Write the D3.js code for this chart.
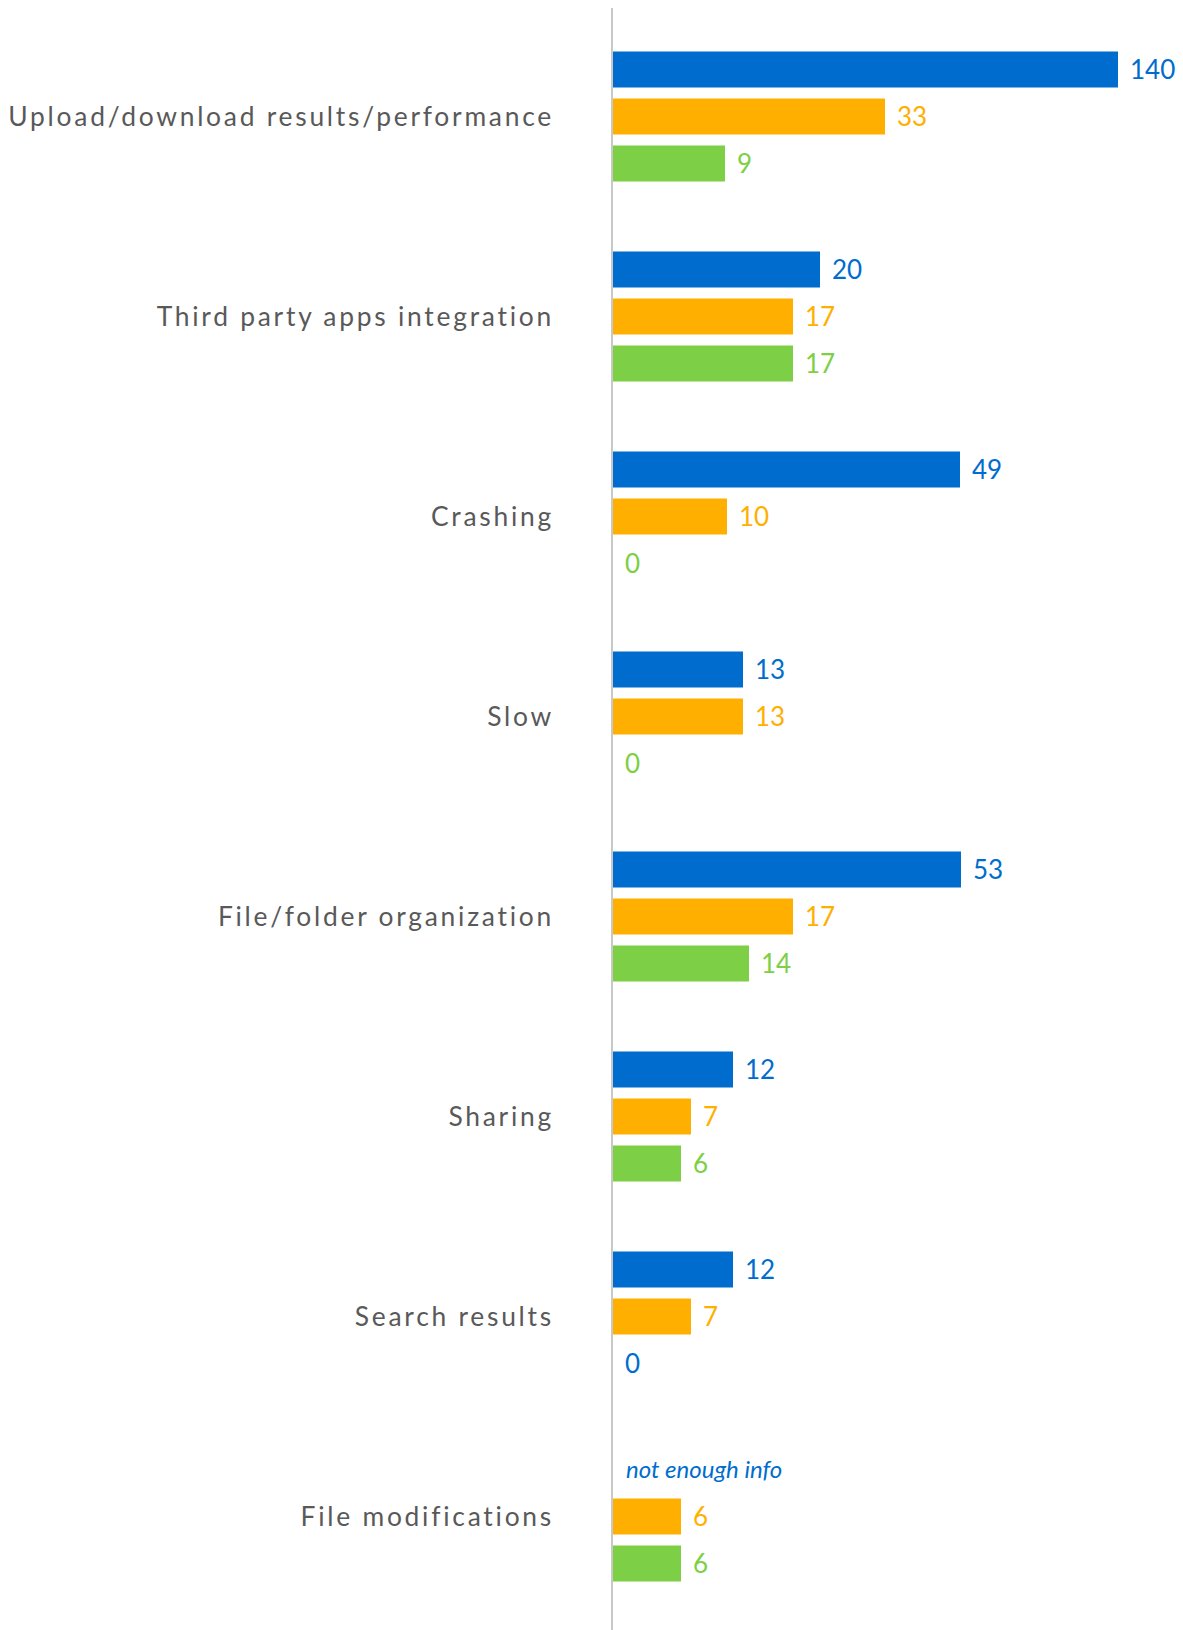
<!DOCTYPE html>
<html>
<head>
<meta charset="utf-8">
<script src="https://cdn.jsdelivr.net/npm/d3@7"></script>
<style>
  html, body { margin: 0; padding: 0; background: #fff; }
  svg { display: block; }
</style>
</head>
<body>
<svg id="chart" width="1183" height="1630"></svg>
<script>
const categories = [
  "Upload/download results/performance",
  "Third party apps integration",
  "Crashing",
  "Slow",
  "File/folder organization",
  "Sharing",
  "Search results",
  "File modifications"
];
const seriesNames = ["blue", "orange", "green"];
const blueValues   = [140, 20, 49, 13, 53, 12, 12, null];
const orangeValues = [33, 17, 10, 13, 17, 7, 7, 6];
const greenValues  = [9, 17, 0, 0, 14, 6, 0, 6];
const missingText = "not enough info";

// the original chart uses a non-linear (piecewise) length encoding
const lengthDomain = [0, 6, 7, 9, 10, 12, 13, 14, 17, 20, 33, 49, 53, 140];
const lengthRange  = [0, 68, 78, 112, 114, 120, 130, 136, 180, 207, 272, 347, 348, 505];

const colors = { blue: "#006dce", orange: "#ffaf00", green: "#7dcf45" };

const svg = d3.select("#chart");
const axisX = 612;

const y = d3.scaleBand()
  .domain(categories)
  .range([16.5, 16.5 + 200 * categories.length])
  .paddingInner(0).paddingOuter(0);

const x = d3.scaleLinear().domain(lengthDomain).range(lengthRange.map(d => d + axisX + 1));

const sub = d3.scaleBand().domain(seriesNames).range([-65, 65]).paddingInner(11/47).paddingOuter(0);

const data = categories.map((c, i) => ({
  category: c,
  values: [
    { s: "blue", v: blueValues[i] },
    { s: "orange", v: orangeValues[i] },
    { s: "green", v: greenValues[i] }
  ]
}));

// axis line
svg.append("line")
  .attr("x1", axisX).attr("x2", axisX)
  .attr("y1", 8).attr("y2", 1630)
  .attr("stroke", "#c8c8c8").attr("stroke-width", 2);

// category labels
svg.selectAll("text.cat").data(categories).enter().append("text")
  .attr("class", "cat")
  .attr("x", 554)
  .attr("y", d => y(d) + y.bandwidth() / 2)
  .attr("dy", "0.36em")
  .attr("text-anchor", "end")
  .style("font-family", "Lato, 'Open Sans', sans-serif")
  .style("font-size", "26.4px")
  .style("letter-spacing", "2.75px")
  .attr("fill", "#595959")
  .text(d => d);

const groups = svg.selectAll("g.grp").data(data).enter().append("g")
  .attr("class", "grp")
  .attr("transform", d => `translate(0,${y(d.category) + y.bandwidth() / 2})`);

groups.each(function(d) {
  const g = d3.select(this);
  d.values.forEach(item => {
    const top = sub(item.s);
    const h = sub.bandwidth();
    if (item.v === null) {
      g.append("text")
        .attr("x", axisX + 14)
        .attr("y", top + h / 2)
        .attr("dy", "0.36em")
        .style("font-family", "Lato, 'Open Sans', sans-serif")
        .style("font-size", "24px")
        .style("font-style", "italic")
        .attr("fill", colors.blue)
        .text(missingText);
      return;
    }
    if (item.v > 0) {
      g.append("rect")
        .attr("x", axisX + 1)
        .attr("y", top)
        .attr("width", x(item.v) - x(0))
        .attr("height", h)
        .attr("fill", colors[item.s]);
    }
    // quirk of the original: the zero under "Search results" is drawn in blue
    const labelColor = (item.v === 0 && d.category === "Search results") ? colors.blue : colors[item.s];
    g.append("text")
      .attr("x", x(item.v) + 12)
      .attr("y", top + h / 2)
      .attr("dy", "0.36em")
      .style("font-family", "Lato, 'Open Sans', sans-serif")
      .style("font-size", "26px")
      .attr("fill", labelColor)
      .text(item.v);
  });
});
</script>
</body>
</html>
